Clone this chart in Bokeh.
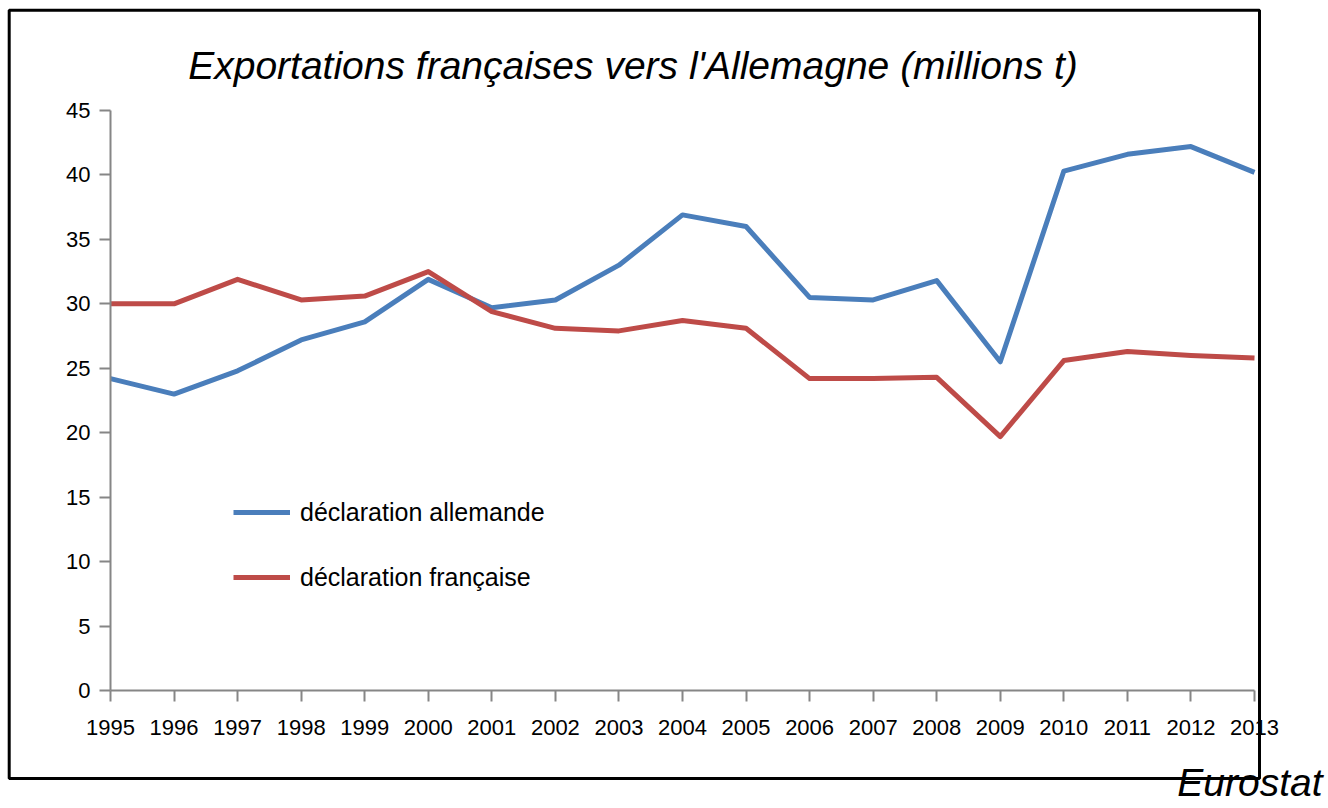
from bokeh.plotting import figure
from bokeh.models import Range1d, FixedTicker, Label, BoxAnnotation
from bokeh.embed import file_html
from bokeh.resources import INLINE

# ---- data ----
years = [1995, 1996, 1997, 1998, 1999, 2000, 2001, 2002, 2003, 2004,
         2005, 2006, 2007, 2008, 2009, 2010, 2011, 2012, 2013]
decl_allemande = [24.2, 23.0, 24.8, 27.2, 28.6, 31.9, 29.7, 30.3, 33.0, 36.9,
                  36.0, 30.5, 30.3, 31.8, 25.5, 40.3, 41.6, 42.2, 40.2]
decl_francaise = [30.0, 30.0, 31.9, 30.3, 30.6, 32.5, 29.4, 28.1, 27.9, 28.7,
                  28.1, 24.2, 24.2, 24.3, 19.7, 25.6, 26.3, 26.0, 25.8]
y_ticks = [0, 5, 10, 15, 20, 25, 30, 35, 40, 45]
series_labels = ["déclaration allemande", "déclaration française"]
title_text = "Exportations françaises vers l'Allemagne (millions t)"
source_text = "Eurostat"

FONT = "Liberation Sans"
AXIS_GRAY = "#868686"

# ---- geometry (pixels) ----
W, H = 1328, 808
ax_l, ax_r, ax_t, ax_b = 110, 1254, 110, 690          # axes area (page px)
x0, x1 = years[0], years[-1]
y0, y1 = y_ticks[0], y_ticks[-1]
sx = (ax_r - ax_l) / (x1 - x0)
sy = (ax_b - ax_t) / (y1 - y0)


def dx(px):
    return x0 + (px - ax_l) / sx


def dy(py):
    return y0 + (ax_b - py) / sy


p = figure(width=W, height=H,
           x_range=Range1d(dx(0), dx(W)), y_range=Range1d(dy(H), dy(0)),
           output_backend="svg", toolbar_location=None, title=None,
           min_border_left=0, min_border_top=0,
           min_border_right=0, min_border_bottom=0)
p.outline_line_color = None
p.xgrid.visible = False
p.ygrid.visible = False
p.background_fill_color = "white"
p.border_fill_color = "white"

p.line(years, decl_allemande, line_color="#4A7EBB", line_width=5,
       line_join="round", legend_label=series_labels[0])
p.line(years, decl_francaise, line_color="#BE4B48", line_width=5,
       line_join="round", legend_label=series_labels[1])

for ax in (p.xaxis[0], p.yaxis[0]):
    ax.axis_line_color = AXIS_GRAY
    ax.axis_line_width = 2
    ax.major_tick_line_color = AXIS_GRAY
    ax.major_tick_line_width = 2
    ax.major_tick_out = 11
    ax.major_tick_in = 0
    ax.minor_tick_line_color = None
    ax.major_label_text_font = FONT
    ax.major_label_text_font_size = "22px"
    ax.major_label_text_color = "black"

p.xaxis.ticker = FixedTicker(ticks=years)
p.yaxis.ticker = FixedTicker(ticks=y_ticks)
p.xaxis.fixed_location = y0
p.yaxis.fixed_location = x0
p.xaxis.bounds = (x0, x1)
p.yaxis.bounds = (y0, y1)
p.xaxis.major_label_standoff = 18
p.yaxis.major_label_standoff = 9

lg = p.legend[0]
lg.location = (233, H - 597)
lg.border_line_color = None
lg.background_fill_alpha = 0
lg.padding = 0
lg.margin = 0
lg.glyph_width = 57
lg.glyph_height = 40
lg.label_height = 40
lg.spacing = 25
lg.label_standoff = 10
lg.label_text_font = FONT
lg.label_text_font_size = "25px"
lg.label_text_color = "black"

# framed box around the chart
p.add_layout(BoxAnnotation(left=dx(8.7), right=dx(1259), top=dy(9.7), bottom=dy(778),
                           fill_alpha=0, fill_color=None,
                           line_color="black", line_alpha=1.0, line_width=3,
                           level="overlay"))

# title inside the box
p.add_layout(Label(x=dx(632.5), y=dy(65), text=title_text, text_font=FONT,
                   text_font_size="39px", text_font_style="italic",
                   text_align="center", text_baseline="alphabetic",
                   text_color="black"))

# source note below the box
p.add_layout(Label(x=dx(1322), y=dy(782), text=source_text, text_font=FONT,
                   text_font_size="39px", text_font_style="italic",
                   text_align="right", text_baseline="alphabetic",
                   text_color="black"))

open("out.html", "w").write(file_html(p, INLINE))
